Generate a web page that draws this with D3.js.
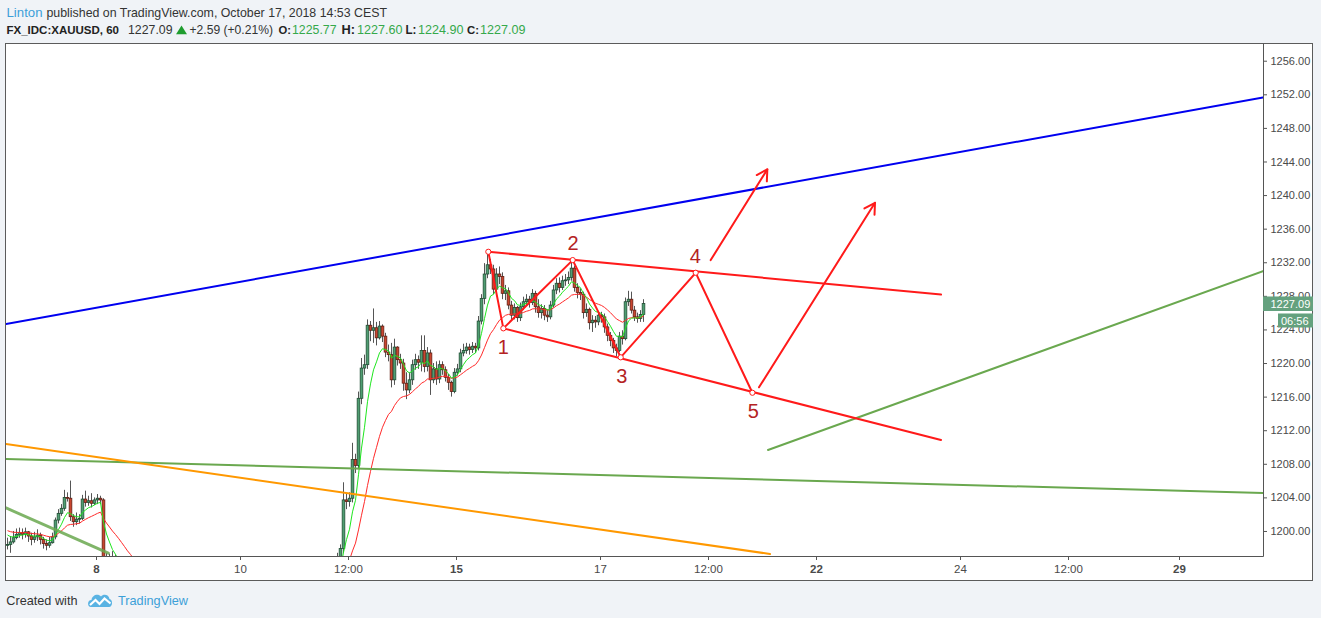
<!DOCTYPE html>
<html><head><meta charset="utf-8">
<script src="https://cdn.jsdelivr.net/npm/d3@7/dist/d3.min.js"></script>
<style>
html,body{margin:0;padding:0;background:#f0f3f7;overflow:hidden}
svg{display:block}
text{font-family:"Liberation Sans",Arial,sans-serif}
</style></head><body>
<svg id="chart" width="1321" height="618"></svg>
<script>
// ---------------- DATA ----------------
const tickBars   = [30, 78, 114, 150, 198, 234, 270, 318, 354, 391];
const tickLabels = ["8", "10", "12:00", "15", "17", "12:00", "22", "24", "12:00", "29"];
const tickBold   = [true, false, false, true, false, false, true, false, false, true];
const priceTicks = [1200, 1204, 1208, 1212, 1216, 1220, 1224, 1228, 1232, 1236, 1240, 1244, 1248, 1252, 1256];

const firstOpen = 1198.3;
const closes = [
1198.4,1198.7,1199.2,1199.6,1199.8,1199.6,1199.9,1199.4,1199.0,1199.3,1199.5,1199.0,1198.5,1198.3,1198.6,1199.3,1201.3,1202.1,1202.7,1204.0,
1203.9,1201.7,1201.1,1201.4,1201.5,1203.8,1203.4,1203.6,1203.3,1203.7,1203.9,1203.7,1194.0,
1195.4,1195.8,1195.1,1195.5,1194.6,
1193.8,1193.2,1192.5,1192.9,1191.8,1191.2,1190.6,1191.0,1190.2,1189.5,1189.9,1189.1,
1188.6,1188.9,1188.2,1188.7,1189.3,1189.0,1189.6,1190.1,1189.8,1190.4,1190.0,1189.5,1189.9,1190.6,1191.2,1190.8,1191.4,1191.0,1190.5,1190.9,
1191.5,1191.9,1191.3,1190.8,1191.2,1191.8,1192.3,1191.9,1192.5,1192.0,1191.6,1192.2,1192.8,1193.1,1192.6,1192.2,1192.7,1193.3,1192.9,1193.5,
1193.0,1192.6,1193.1,1193.6,1193.2,1192.8,1193.4,1193.9,1193.5,1193.1,1193.7,1194.2,1193.8,1193.3,1193.9,1194.4,1194.0,1193.6,1194.2,1194.8,
1195.8,1197.9,1203.7,1203.5,1203.9,1208.5,1207.8,1215.8,1219.4,1219.8,
1224.5,1223.9,1224.2,1223.0,1224.4,1223.2,1221.3,1221.0,1218.0,1221.9,
1220.4,1220.0,1217.6,1216.8,1218.0,1219.8,1220.4,1220.1,1221.5,1219.6,
1221.2,1218.0,1219.3,1218.1,1219.8,1219.2,1218.3,1217.7,1216.6,1218.9,
1219.3,1221.2,1221.5,1221.9,1221.6,1222.0,1221.8,1225.0,1227.7,1230.6,
1231.7,1231.2,1228.8,1230.6,1230.3,1228.3,1228.6,1226.9,1225.7,1226.6,
1225.4,1226.7,1227.3,1227.6,1227.2,1228.3,1226.7,1226.0,1226.5,1225.7,
1225.5,1226.9,1228.7,1229.5,1229.0,1229.8,1229.9,1230.2,1231.3,1229.0,
1228.4,1228.2,1226.0,1226.4,1224.8,1225.1,1224.9,1225.7,1225.5,1224.3,
1223.3,1222.7,1221.8,1221.5,1223.2,1222.9,1227.3,1227.6,1226.3,1225.5,
1225.3,1225.77,1227.09
];
const highs = [
1199.2,1199.4,1200.0,1200.3,1200.4,1200.3,1200.4,1200.0,1199.8,1199.9,1200.2,1199.8,1199.3,1199.0,1199.3,1199.8,1201.6,1202.6,1203.2,1204.9,
1204.6,1206.0,1202.0,1202.2,1202.0,1204.3,1204.8,1204.2,1204.5,1204.0,1204.4,1204.2,1203.9,
1197.4,1197.3,1197.6,1197.2,1196.0,
1195.0,1194.4,1193.6,1193.9,1193.0,1192.3,1191.7,1192.0,1191.4,1190.6,1190.8,1190.3,
1189.7,1189.9,1189.3,1189.8,1190.3,1190.1,1190.6,1191.1,1190.9,1191.4,1191.1,1190.6,1190.9,1191.6,1192.2,1191.9,1192.4,1192.1,1191.5,1191.9,
1192.5,1192.9,1192.4,1191.8,1192.2,1192.8,1193.3,1192.9,1193.5,1193.1,1192.6,1193.2,1193.8,1194.1,1193.7,1193.2,1193.7,1194.3,1193.9,1194.5,
1194.1,1193.6,1194.1,1194.6,1194.3,1193.8,1194.4,1194.9,1194.6,1194.1,1194.7,1195.2,1194.9,1194.3,1194.9,1195.4,1195.1,1194.6,1195.2,1195.8,
1197.4,1198.4,1205.8,1204.4,1204.6,1210.5,1209.2,1216.6,1220.6,1221.0,
1225.2,1225.0,1226.5,1224.9,1225.0,1224.6,1223.6,1222.2,1222.4,1222.9,
1222.0,1221.1,1220.5,1218.9,1218.9,1220.4,1221.1,1220.9,1223.3,1223.3,
1221.9,1221.6,1220.0,1220.2,1220.3,1220.2,1219.6,1218.7,1217.9,1219.4,
1219.9,1221.7,1222.3,1222.4,1222.3,1222.5,1222.4,1225.6,1228.2,1231.9,
1233.4,1232.4,1231.7,1231.3,1231.5,1230.8,1229.3,1229.0,1227.4,1227.1,
1226.8,1227.2,1227.9,1228.2,1228.0,1228.8,1228.6,1227.6,1227.0,1226.9,
1226.4,1227.4,1229.3,1230.1,1230.2,1230.4,1230.6,1230.9,1232.3,1231.6,
1229.5,1228.9,1228.5,1227.1,1226.6,1225.7,1225.6,1226.2,1226.1,1225.9,
1224.7,1223.7,1223.0,1222.3,1223.7,1223.9,1227.8,1228.6,1228.5,1226.8,
1226.0,1226.3,1227.6
];
const lows = [
1197.8,1197.4,1198.5,1199.0,1199.2,1199.0,1199.2,1198.7,1198.3,1198.6,1198.8,1198.4,1197.9,1197.7,1198.0,1198.5,1199.0,1200.9,1201.8,1202.4,
1203.5,1201.2,1200.5,1200.7,1200.9,1201.3,1202.9,1203.0,1202.8,1203.1,1203.2,1203.2,1193.0,
1193.2,1194.5,1194.3,1194.4,1193.8,
1192.9,1192.3,1191.6,1191.8,1190.9,1190.2,1189.6,1190.0,1189.2,1188.5,1188.9,1188.1,
1187.6,1187.9,1187.2,1187.7,1188.3,1188.0,1188.6,1189.1,1188.8,1189.4,1189.0,1188.5,1188.9,1189.6,1190.2,1189.8,1190.4,1190.0,1189.5,1189.9,
1190.5,1190.9,1190.3,1189.8,1190.2,1190.8,1191.3,1190.9,1191.5,1191.0,1190.6,1191.2,1191.8,1192.1,1191.6,1191.2,1191.7,1192.3,1191.9,1192.5,
1192.0,1191.6,1192.1,1192.6,1192.2,1191.8,1192.4,1192.9,1192.5,1192.1,1192.7,1193.2,1192.8,1192.3,1192.9,1193.4,1193.0,1192.6,1193.2,1193.8,
1194.6,1195.4,1197.4,1202.6,1202.9,1203.4,1206.9,1207.4,1215.1,1218.6,
1219.3,1222.6,1222.4,1222.1,1222.8,1222.5,1220.7,1220.2,1217.1,1217.4,
1219.7,1219.3,1216.7,1215.7,1216.4,1217.4,1219.2,1219.3,1219.0,1218.9,
1219.0,1216.2,1217.6,1217.4,1217.6,1218.6,1217.8,1216.8,1216.0,1216.4,
1218.5,1218.9,1220.8,1221.1,1221.0,1221.2,1221.2,1221.5,1224.6,1227.0,
1230.1,1230.6,1228.2,1228.4,1229.4,1227.6,1227.5,1226.4,1225.0,1225.2,
1224.9,1225.0,1226.3,1226.9,1226.6,1226.9,1226.0,1225.4,1225.3,1225.1,
1224.9,1225.2,1226.6,1228.2,1228.4,1228.7,1229.2,1229.4,1229.8,1228.5,
1227.7,1227.5,1225.3,1225.5,1224.0,1223.7,1224.2,1224.5,1224.8,1223.6,
1222.6,1222.0,1221.2,1220.8,1221.3,1222.2,1222.7,1226.8,1225.9,1225.0,
1224.8,1224.9,1224.9
];
// moving averages (period, starting value)
const fastPeriod = 7,  fastStart = 1199.9;
const slowPeriod = 21, slowStart = 1200.2;

// drawings: [bar, price]
const blueLine       = [[0, 1224.64], [419, 1251.63]];
const orangeLine     = [[0, 1210.36], [254.67, 1197.26]];
const greenLongLine  = [[0, 1208.57], [419, 1204.52]];
const greenShortLine = [[0, 1202.74], [34.1, 1197.35]];
const greenRightLine = [[254, 1209.64], [419, 1230.95]];
const channelTop     = [[160.77, 1233.25], [311.67, 1228.15]];
const channelBottom  = [[165.78, 1224.13], [311.67, 1210.83]];
const wavePoints     = [[160.77, 1233.25], [165.78, 1224.13], [188.9, 1232.26], [204.9, 1220.68], [229.9, 1230.75], [248.8, 1216.46]];
const arrowLines     = [[[234.9, 1232.26], [253.77, 1243.06]], [[251, 1217.11], [289.67, 1239.08]]];
const waveLabels     = ["1", "2", "3", "4", "5"];
const waveLabelBars  = [165.77, 189, 205.23, 229.77, 249.1];
const waveLabelPrice = [1221.96, 1234.35, 1218.51, 1232.8, 1214.23];

const lastPrice = 1227.09, countdown = "06:56";

// ---------------- CHART ----------------
const svg = d3.select("#chart");
const P = {l: 6, t: 43.5, r: 1263, b: 556};
const x = d3.scaleLinear().domain([0, 419]).range([P.l, P.r]);
const y = d3.scaleLinear().domain([1197.02, 1258.11]).range([P.b, 43]);

svg.append("rect").attr("x", 5.5).attr("y", 43.5).attr("width", 1307).attr("height", 537)
  .attr("fill", "#fff").attr("stroke", "#5b5b5b").attr("stroke-width", 1);

svg.append("clipPath").attr("id", "plotclip").append("rect")
  .attr("x", P.l).attr("y", 44).attr("width", P.r - P.l).attr("height", P.b - 44);
const g = svg.append("g").attr("clip-path", "url(#plotclip)");

// candles
const opens = closes.map((c, i) => i === 0 ? firstOpen : closes[i - 1]);
const bars = closes.map((c, i) => ({i, o: opens[i], h: highs[i], l: lows[i], c}));
const cx = i => x(i + 0.5);
const cg = g.append("g");
cg.selectAll("line.wick").data(bars).join("line")
  .attr("x1", d => cx(d.i)).attr("x2", d => cx(d.i))
  .attr("y1", d => y(d.h)).attr("y2", d => y(d.l))
  .attr("stroke", "#555").attr("stroke-width", 1);
cg.selectAll("rect.body").data(bars).join("rect")
  .attr("x", d => cx(d.i) - 1.35).attr("width", 2.7)
  .attr("y", d => y(Math.max(d.o, d.c)))
  .attr("height", d => Math.max(0.9, Math.abs(y(d.o) - y(d.c))))
  .attr("fill", d => d.c >= d.o ? "#4f9d72" : "#c9452f")
  .attr("stroke", d => d.c >= d.o ? "#1d4a31" : "#5e1b10")
  .attr("stroke-width", 0.75);

// moving averages
function ema(vals, period, start) {
  const a = 2 / (period + 1); let e = start;
  return vals.map(v => (e = e + a * (v - e)));
}
const fast = ema(closes, fastPeriod, fastStart);
const slow = ema(closes, slowPeriod, slowStart);
const maLine = d3.line().x((d, i) => cx(i)).y(d => y(d));
g.append("path").attr("d", maLine(slow)).attr("fill", "none").attr("stroke", "#ff2a2a").attr("stroke-width", 1);
g.append("path").attr("d", maLine(fast)).attr("fill", "none").attr("stroke", "#1ee61e").attr("stroke-width", 1);

// drawings
const pl = d3.line().x(d => x(d[0])).y(d => y(d[1]));
function draw(pts, color, w, op) {
  g.append("path").attr("d", pl(pts)).attr("fill", "none").attr("stroke", color)
    .attr("stroke-width", w).attr("stroke-opacity", op || 1).attr("stroke-linecap", "round");
}
draw(greenShortLine, "#6aa84f", 3, 0.85);
draw(greenLongLine, "#6aa84f", 2);
draw(orangeLine, "#ff9800", 2);
draw(blueLine, "#0000f0", 2);
draw(greenRightLine, "#6aa84f", 2);
draw(channelTop, "#ff1a1a", 2);
draw(channelBottom, "#ff1a1a", 2);
draw(wavePoints, "#ff1a1a", 2);
arrowLines.forEach(a => {
  draw(a, "#ff1a1a", 2);
  const x0 = x(a[0][0]), y0 = y(a[0][1]), x1 = x(a[1][0]), y1 = y(a[1][1]);
  const ang = Math.atan2(y1 - y0, x1 - x0), L = 12, sp = 0.52;
  const head = [[x1 + L * Math.cos(ang + Math.PI - sp), y1 + L * Math.sin(ang + Math.PI - sp)], [x1, y1],
                [x1 + L * Math.cos(ang + Math.PI + sp), y1 + L * Math.sin(ang + Math.PI + sp)]];
  g.append("path").attr("d", d3.line()(head)).attr("fill", "none").attr("stroke", "#ff1a1a")
    .attr("stroke-width", 2).attr("stroke-linecap", "round").attr("stroke-linejoin", "round");
});
g.selectAll("circle.pt").data(wavePoints).join("circle")
  .attr("cx", d => x(d[0])).attr("cy", d => y(d[1])).attr("r", 2.6)
  .attr("fill", "#fff").attr("stroke", "#ff1a1a").attr("stroke-width", 1);
g.selectAll("text.wl").data(waveLabels).join("text")
  .attr("x", (d, i) => x(waveLabelBars[i])).attr("y", (d, i) => y(waveLabelPrice[i]))
  .attr("text-anchor", "middle").attr("dominant-baseline", "central")
  .attr("font-size", 20).attr("fill", "#b42323").text(d => d);

// axes
const axisColor = "#555";
const yAxis = d3.axisRight(y).tickValues(priceTicks).tickFormat(d => d.toFixed(2)).tickSize(4).tickSizeOuter(0).tickPadding(3.5);
const ya = svg.append("g").attr("transform", `translate(${P.r},0)`).call(yAxis);
ya.select(".domain").remove();
ya.selectAll("line").attr("stroke", axisColor);
ya.selectAll("text").attr("font-size", 11).attr("fill", "#4a4a4a").attr("font-family", "Liberation Sans, Arial, sans-serif");

const xAxis = d3.axisBottom(x).tickValues(tickBars).tickFormat((d, i) => tickLabels[i]).tickSize(4).tickSizeOuter(0).tickPadding(5);
const xa = svg.append("g").attr("transform", `translate(0,${P.b})`).call(xAxis);
xa.select(".domain").remove();
xa.selectAll("line").attr("stroke", axisColor);
xa.selectAll("text").attr("font-size", 11.5).attr("fill", "#4a4a4a").attr("font-family", "Liberation Sans, Arial, sans-serif")
  .attr("font-weight", (d, i) => tickBold[i] ? "bold" : "normal");

svg.append("line").attr("x1", P.r + 0.5).attr("x2", P.r + 0.5).attr("y1", 43.5).attr("y2", P.b + 0.5).attr("stroke", axisColor);
svg.append("line").attr("x1", 5.5).attr("x2", P.r + 0.5).attr("y1", P.b + 0.5).attr("y2", P.b + 0.5).attr("stroke", axisColor);

// last price labels
const ly = y(lastPrice);
svg.append("rect").attr("x", P.r).attr("y", ly - 7).attr("width", 50).attr("height", 14.5).attr("fill", "#64a17e");
svg.append("text").attr("x", 1270.5).attr("y", ly + 0.5).attr("dominant-baseline", "central")
  .attr("font-size", 11).attr("fill", "#fff").text(lastPrice.toFixed(2));
svg.append("rect").attr("x", 1278).attr("y", ly + 10).attr("width", 35).attr("height", 14).attr("fill", "#64a17e");
svg.append("text").attr("x", 1281).attr("y", ly + 17.3).attr("dominant-baseline", "central")
  .attr("font-size", 11).attr("fill", "#fff").text(countdown);

// header (font size shrunk so each piece's natural width fits its measured slot)
const hf = "Lato, 'Liberation Sans', sans-serif";
function ht(str, xx, yy, opts) {
  let fs = opts.fs || 13.5;
  const t = svg.append("text").attr("x", xx).attr("y", yy).attr("font-family", hf).attr("font-size", fs)
    .attr("fill", opts.fill || "#333").attr("font-weight", opts.bold ? "bold" : "normal").text(str);
  if (opts.len) {
    const w = t.node().getComputedTextLength();
    if (w > opts.len) { fs = fs * opts.len / w; t.attr("font-size", fs); }
    t.attr("textLength", opts.len - 0.5).attr("lengthAdjust", "spacingAndGlyphs");
  }
  return t;
}
ht("Linton", 6.5, 16.7, {fill: "#3d9fd9", len: 36.5});
ht("published on TradingView.com, October 17, 2018 14:53 CEST", 46.5, 16.7, {fill: "#333", len: 341});
ht("FX_IDC:XAUUSD, 60", 6.5, 34.3, {bold: true, fill: "#222", len: 113});
ht("1227.09", 128, 34.3, {len: 45});
svg.append("path").attr("d", "M176,34.3 L181.5,25.5 L187,34.3 Z").attr("fill", "#1f9d2f");
ht("+2.59 (+0.21%)", 189.5, 34.3, {len: 84});
ht("O:", 278.5, 34.3, {bold: true, fill: "#222", len: 13});
ht("1225.77", 292, 34.3, {fill: "#35a94b", len: 45});
ht("H:", 341.5, 34.3, {bold: true, fill: "#222", len: 14});
ht("1227.60", 357, 34.3, {fill: "#35a94b", len: 46});
ht("L:", 405.5, 34.3, {bold: true, fill: "#222", len: 11.5});
ht("1224.90", 418, 34.3, {fill: "#35a94b", len: 46});
ht("C:", 467, 34.3, {bold: true, fill: "#222", len: 12.5});
ht("1227.09", 480, 34.3, {fill: "#35a94b", len: 46});

// footer
ht("Created with", 6.3, 605, {fill: "#333", len: 71.7});
const logo = svg.append("g").attr("transform", "translate(88,592)");
logo.append("path").attr("d", "M3,15 C-1,15 -1,8 3.5,8 C4,3 10,1 13,4.5 C15,1.5 21,2 21.5,7 C25,7.5 25,15 21,15 Z").attr("fill", "#5ab3e3");
logo.append("path").attr("d", "M2,13 L7.5,8 L11.5,12 L16.5,6.5 L22.5,11.5").attr("fill", "none").attr("stroke", "#fff").attr("stroke-width", 2.2);
ht("TradingView", 118, 605, {fill: "#3ca0d8", len: 70.5});
</script>
</body></html>
